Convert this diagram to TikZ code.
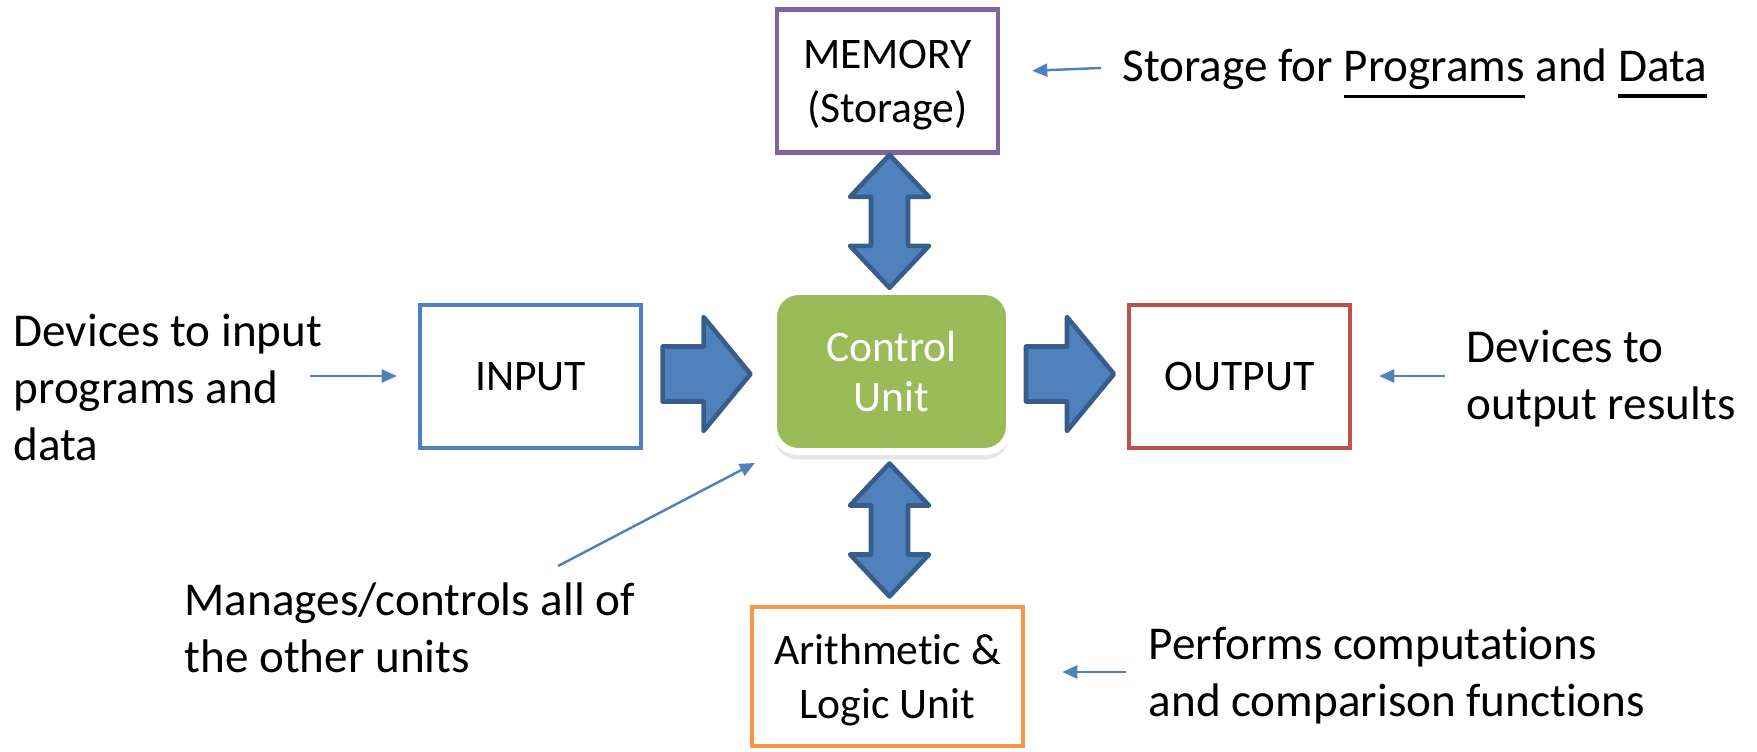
\documentclass[tikz,border=0pt]{standalone}
\usepackage{fontspec}
\setmainfont{Carlito}[Ligatures=NoCommon]
\usetikzlibrary{calc,shadows,arrows.meta}

\definecolor{inblue}{HTML}{4F81BD}
\definecolor{arrowline}{HTML}{385D8A}
\definecolor{outred}{HTML}{C0504D}
\definecolor{mempurple}{HTML}{8064A2}
\definecolor{aluorange}{HTML}{F79646}
\definecolor{ctrlgreen}{HTML}{9BBB59}

% underline with a given thickness
\newcommand{\ulword}[2][0.6pt]{{\setbox0\hbox{#2}\rlap{\raisebox{-4.6pt}{\rule{\wd0}{#1}}}\box0}}

\tikzset{
  every node/.style={font=\fontsize{13.4}{16.2}\selectfont},
  unitbox/.style={draw, line width=1.2pt, minimum width=2.21cm, minimum height=1.43cm,
    align=center, inner sep=0pt, text depth=0pt, font=\fontsize{12.4}{15.4}\selectfont},
  ctrlbox/.style={draw=white, line width=2pt, fill=ctrlgreen, rounded corners=0.25cm,
    minimum width=2.36cm, minimum height=1.6cm, text=white, align=center,
    font=\fontsize{12.4}{14.4}\selectfont,
    drop shadow={shadow xshift=0pt, shadow yshift=-0.08cm, opacity=0.2}},
  note/.style={anchor=north west, align=left, inner sep=0pt},
  thinarrow/.style={draw=inblue, line width=0.7pt, -{Triangle[length=4.3pt,width=3.7pt]}},
  blockarrow/.style={fill=inblue, draw=arrowline, line width=1.3pt, line join=round},
  rblock/.pic={
    \draw[blockarrow] (-44,-27.5) -- (-3,-27.5) -- (-3,-57) -- (44,0) -- (-3,57)
      -- (-3,27.5) -- (-44,27.5) -- cycle;
  },
  vblock/.pic={
    \draw[blockarrow] (0,-66.5) -- (39.5,-24.5) -- (18.5,-24.5) -- (18.5,24.5)
      -- (39.5,24.5) -- (0,66.5) -- (-39.5,24.5) -- (-18.5,24.5) -- (-18.5,-24.5)
      -- (-39.5,-24.5) -- cycle;
  }
}

\begin{document}
\begin{tikzpicture}[x=0.01cm, y=-0.01cm]
\useasboundingbox (0,0) rectangle (1757,751);

% the units
\node[unitbox, draw=mempurple] (memory) at (887.5,81) {MEMORY\\(Storage)};
\node[unitbox, draw=inblue] (input) at (530.5,376.5) {INPUT};
\node[unitbox, draw=outred] (output) at (1239.5,376.5) {OUTPUT};
\node[unitbox, draw=aluorange, minimum width=2.71cm, minimum height=1.39cm] (alu)
  at (887.5,676.5) {Arithmetic \&\\Logic Unit};
\node[ctrlbox] (ctrl) at (891.5,371.5) {Control\\Unit};

% block arrows between units
\pic at ($(input.east)!0.5!(ctrl.west)$) {rblock};
\pic at ($(ctrl.east)!0.5!(output.west)$) {rblock};
\pic at ($(memory.south)!0.5!(ctrl.north)$) {vblock};
\pic at ($(ctrl.south)!0.5!(alu.north)$) {vblock};

% notes
\node[note] (innote) at (13,313) {Devices to input\\programs and\\data};
\node[note] (memnote) at (1122,48) {Storage for \ulword{Programs} and \ulword[0.9pt]{Data}};
\node[note] (outnote) at (1466,329) {Devices to\\output results};
\node[note] (mgnote) at (184,582) {Manages/controls all of\\the other units};
\node[note] (alunote) at (1148,626) {Performs computations\\and comparison functions};

\coordinate (intail) at (310,376);
\coordinate (memtail) at (1101,68);
\coordinate (outtail) at (1445,376);
\coordinate (alutail) at (1126,672);
\coordinate (mgtail) at (558,566);

\draw[thinarrow, shorten >=0.21cm] (intail) -- (input.west |- intail);
\draw[thinarrow, shorten >=0.32cm] (memtail) -- ($(memory.east)+(0,-9)$);
\draw[thinarrow, shorten >=0.27cm] (outtail) -- (output.east |- outtail);
\draw[thinarrow, shorten >=0.37cm] (alutail) -- (alu.east |- alutail);
\draw[thinarrow, shorten >=0.17cm] (mgtail) -- (ctrl.south west);
\end{tikzpicture}
\end{document}
